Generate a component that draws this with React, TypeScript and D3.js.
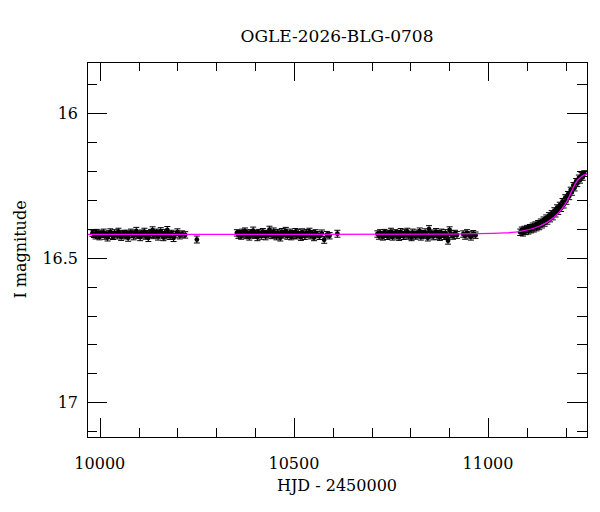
import * as d3 from "d3";
import { useEffect, useRef } from "react";

// photometry: [HJD - 2450000, I mag, error]
const season1: [number, number, number][] = [
  [9981, 16.415, 0.011], [9985, 16.418, 0.012], [9989, 16.424, 0.011], [9992, 16.412, 0.01],
  [9996, 16.421, 0.012], [9999, 16.427, 0.011], [10003, 16.416, 0.011], [10006, 16.42, 0.01],
  [10010, 16.413, 0.012], [10013, 16.425, 0.011], [10017, 16.419, 0.011], [10020, 16.43, 0.012],
  [10024, 16.417, 0.01], [10027, 16.411, 0.011], [10031, 16.422, 0.012], [10034, 16.426, 0.011],
  [10038, 16.414, 0.011], [10041, 16.419, 0.01], [10045, 16.423, 0.012], [10048, 16.409, 0.011],
  [10052, 16.418, 0.011], [10055, 16.428, 0.012], [10059, 16.421, 0.011], [10062, 16.415, 0.01],
  [10066, 16.424, 0.011], [10069, 16.417, 0.012], [10073, 16.431, 0.012], [10076, 16.42, 0.011],
  [10080, 16.412, 0.011], [10083, 16.419, 0.01], [10087, 16.426, 0.012], [10090, 16.416, 0.011],
  [10094, 16.407, 0.012], [10097, 16.422, 0.011], [10101, 16.418, 0.011], [10104, 16.429, 0.012],
  [10108, 16.414, 0.01], [10111, 16.421, 0.011], [10115, 16.41, 0.012], [10118, 16.425, 0.011],
  [10122, 16.417, 0.011], [10125, 16.432, 0.012], [10129, 16.42, 0.01], [10132, 16.413, 0.011],
  [10136, 16.405, 0.012], [10139, 16.423, 0.011], [10143, 16.418, 0.011], [10146, 16.411, 0.01],
  [10150, 16.427, 0.012], [10153, 16.416, 0.011], [10157, 16.408, 0.012], [10160, 16.421, 0.011],
  [10164, 16.43, 0.011], [10167, 16.414, 0.012], [10171, 16.424, 0.011], [10174, 16.404, 0.012],
  [10178, 16.419, 0.011], [10181, 16.426, 0.011], [10185, 16.415, 0.01], [10190, 16.432, 0.012],
  [10195, 16.42, 0.011], [10200, 16.411, 0.011], [10206, 16.423, 0.012], [10212, 16.418, 0.011],
  [10220, 16.421, 0.011], [10250, 16.437, 0.012],
];

const season2: [number, number, number][] = [
  [10353, 16.414, 0.011], [10357, 16.421, 0.012], [10360, 16.417, 0.011], [10364, 16.425, 0.011],
  [10367, 16.411, 0.01], [10371, 16.419, 0.012], [10374, 16.408, 0.011], [10378, 16.423, 0.011],
  [10381, 16.416, 0.012], [10385, 16.428, 0.011], [10388, 16.413, 0.01], [10392, 16.42, 0.011],
  [10395, 16.406, 0.012], [10399, 16.422, 0.011], [10402, 16.417, 0.011], [10406, 16.429, 0.012],
  [10409, 16.412, 0.01], [10413, 16.419, 0.011], [10416, 16.424, 0.012], [10420, 16.41, 0.011],
  [10423, 16.418, 0.011], [10427, 16.426, 0.012], [10430, 16.415, 0.01], [10434, 16.421, 0.011],
  [10437, 16.403, 0.012], [10441, 16.416, 0.011], [10444, 16.423, 0.011], [10448, 16.409, 0.012],
  [10451, 16.42, 0.01], [10455, 16.427, 0.011], [10458, 16.414, 0.012], [10462, 16.418, 0.011],
  [10465, 16.431, 0.011], [10469, 16.411, 0.012], [10472, 16.422, 0.01], [10476, 16.416, 0.011],
  [10479, 16.407, 0.012], [10483, 16.425, 0.011], [10486, 16.419, 0.011], [10490, 16.413, 0.012],
  [10493, 16.428, 0.01], [10497, 16.417, 0.011], [10500, 16.421, 0.012], [10504, 16.41, 0.011],
  [10507, 16.424, 0.011], [10511, 16.415, 0.012], [10514, 16.42, 0.01], [10518, 16.429, 0.011],
  [10521, 16.412, 0.012], [10525, 16.418, 0.011], [10528, 16.426, 0.011], [10532, 16.414, 0.012],
  [10536, 16.421, 0.01], [10540, 16.409, 0.011], [10544, 16.423, 0.012], [10548, 16.417, 0.011],
  [10552, 16.43, 0.011], [10556, 16.415, 0.012], [10561, 16.42, 0.011], [10566, 16.426, 0.011],
  [10572, 16.416, 0.012], [10578, 16.438, 0.012], [10585, 16.42, 0.011], [10592, 16.424, 0.011],
  [10612, 16.417, 0.012],
];

const season3: [number, number, number][] = [
  [10715, 16.418, 0.011], [10719, 16.424, 0.012], [10722, 16.414, 0.011], [10726, 16.421, 0.011],
  [10729, 16.427, 0.012], [10733, 16.412, 0.01], [10736, 16.419, 0.011], [10740, 16.425, 0.012],
  [10743, 16.416, 0.011], [10747, 16.422, 0.011], [10750, 16.41, 0.012], [10754, 16.428, 0.011],
  [10757, 16.418, 0.01], [10761, 16.414, 0.011], [10764, 16.423, 0.012], [10768, 16.417, 0.011],
  [10771, 16.429, 0.011], [10775, 16.411, 0.012], [10778, 16.42, 0.01], [10782, 16.426, 0.011],
  [10785, 16.415, 0.012], [10789, 16.421, 0.011], [10792, 16.409, 0.011], [10796, 16.424, 0.012],
  [10799, 16.418, 0.01], [10803, 16.43, 0.011], [10806, 16.413, 0.012], [10810, 16.42, 0.011],
  [10813, 16.425, 0.011], [10817, 16.416, 0.012], [10820, 16.422, 0.01], [10824, 16.408, 0.011],
  [10827, 16.427, 0.012], [10831, 16.417, 0.011], [10834, 16.423, 0.011], [10838, 16.412, 0.012],
  [10841, 16.419, 0.01], [10845, 16.431, 0.011], [10848, 16.401, 0.012], [10852, 16.421, 0.011],
  [10855, 16.415, 0.011], [10859, 16.426, 0.012], [10862, 16.418, 0.01], [10866, 16.41, 0.011],
  [10869, 16.424, 0.012], [10873, 16.417, 0.011], [10876, 16.429, 0.011], [10880, 16.413, 0.012],
  [10883, 16.42, 0.01], [10887, 16.426, 0.011], [10890, 16.415, 0.012], [10894, 16.422, 0.011],
  [10897, 16.441, 0.012], [10901, 16.404, 0.011], [10905, 16.419, 0.012], [10910, 16.425, 0.011],
  [10915, 16.416, 0.011], [10920, 16.421, 0.012], [10936, 16.418, 0.011], [10941, 16.424, 0.012],
  [10946, 16.414, 0.011], [10951, 16.421, 0.011], [10956, 16.427, 0.012], [10962, 16.417, 0.011],
  [10968, 16.422, 0.011],
];

const season4: [number, number, number][] = [
  [11083, 16.412, 0.011], [11087, 16.404, 0.01], [11090, 16.414, 0.011], [11094, 16.401, 0.01],
  [11097, 16.409, 0.011], [11101, 16.398, 0.01], [11104, 16.407, 0.011], [11108, 16.395, 0.01],
  [11111, 16.403, 0.011], [11115, 16.39, 0.01], [11118, 16.4, 0.011], [11122, 16.386, 0.01],
  [11125, 16.396, 0.011], [11129, 16.381, 0.01], [11132, 16.392, 0.011], [11136, 16.376, 0.01],
  [11139, 16.386, 0.011], [11143, 16.369, 0.01], [11146, 16.38, 0.011], [11150, 16.362, 0.01],
  [11153, 16.373, 0.011], [11157, 16.354, 0.01], [11160, 16.365, 0.011], [11164, 16.347, 0.01],
  [11167, 16.358, 0.011], [11171, 16.337, 0.01], [11174, 16.348, 0.011], [11178, 16.327, 0.01],
  [11181, 16.339, 0.011], [11185, 16.318, 0.01], [11188, 16.329, 0.011], [11192, 16.305, 0.01],
  [11195, 16.317, 0.011], [11199, 16.292, 0.01], [11202, 16.304, 0.011], [11206, 16.281, 0.01],
  [11209, 16.288, 0.011], [11213, 16.266, 0.01], [11216, 16.273, 0.011], [11220, 16.25, 0.01],
  [11223, 16.258, 0.011], [11227, 16.236, 0.01], [11230, 16.243, 0.011], [11234, 16.224, 0.01],
  [11237, 16.231, 0.011], [11241, 16.215, 0.01], [11244, 16.221, 0.011], [11248, 16.209, 0.01],
];

// model light curve
const modelHjd = [9967, 10500, 10900, 11044, 11087, 11130, 11155, 11181, 11203, 11215, 11228, 11241, 11255];
const modelMag = [16.419, 16.419, 16.418, 16.414, 16.408, 16.392, 16.375, 16.346, 16.306, 16.271, 16.237, 16.219, 16.211];

const xTicks = [10000, 10500, 11000];
const yTicks = [16, 16.5, 17];

const W = 600;
const H = 512;
const M = { left: 87, right: 587, top: 62, bottom: 437 };

export default function App() {
  const ref = useRef<SVGSVGElement>(null);

  useEffect(() => {
    const svg = d3.select(ref.current);
    svg.selectAll("*").remove();

    const x = d3.scaleLinear().domain([9967, 11255]).range([M.left, M.right]);
    const y = d3.scaleLinear().domain([15.823, 17.12]).range([M.top, M.bottom]);

    const font = "'DejaVu Serif', serif";

    svg.append("clipPath").attr("id", "plotclip")
      .append("rect")
      .attr("x", M.left).attr("y", M.top)
      .attr("width", M.right - M.left).attr("height", M.bottom - M.top);

    const plot = svg.append("g").attr("clip-path", "url(#plotclip)");

    const data = [...season1, ...season2, ...season3, ...season4];

    // error bars
    const eb = plot.append("g").attr("stroke", "#000").attr("stroke-width", 1);
    data.forEach(([t, m, e]) => {
      const cx = x(t);
      eb.append("line").attr("x1", cx).attr("x2", cx).attr("y1", y(m - e)).attr("y2", y(m + e));
      eb.append("line").attr("x1", cx - 3).attr("x2", cx + 3).attr("y1", y(m - e)).attr("y2", y(m - e));
      eb.append("line").attr("x1", cx - 3).attr("x2", cx + 3).attr("y1", y(m + e)).attr("y2", y(m + e));
    });

    plot.append("g")
      .selectAll("circle")
      .data(data)
      .join("circle")
      .attr("cx", (d) => x(d[0]))
      .attr("cy", (d) => y(d[1]))
      .attr("r", 2.4)
      .attr("fill", "#000");

    const model = modelHjd.map((t, i) => [t, modelMag[i]] as [number, number]);
    const line = d3.line<[number, number]>()
      .x((d) => x(d[0]))
      .y((d) => y(d[1]))
      .curve(d3.curveMonotoneX);
    plot.append("path")
      .attr("d", line(model))
      .attr("fill", "none")
      .attr("stroke", "#ff00ff")
      .attr("stroke-width", 1.3);

    // ticks on all four sides, pointing inward
    const tk = svg.append("g").attr("stroke", "#000").attr("stroke-width", 1);
    const xMinor = d3.range(10000, 11256, 100);
    xMinor.forEach((t) => {
      const len = t % 500 === 0 ? 19 : 9;
      const px = Math.round(x(t)) + 0.5;
      tk.append("line").attr("x1", px).attr("x2", px).attr("y1", M.bottom).attr("y2", M.bottom - len);
      tk.append("line").attr("x1", px).attr("x2", px).attr("y1", M.top).attr("y2", M.top + len);
    });
    const yMinor = d3.range(15.9, 17.11, 0.1).map((v) => Math.round(v * 10) / 10);
    yMinor.forEach((v) => {
      const len = Math.abs(v * 2 - Math.round(v * 2)) < 1e-6 ? 20 : 10;
      const py = Math.round(y(v)) + 0.5;
      tk.append("line").attr("x1", M.left).attr("x2", M.left + len).attr("y1", py).attr("y2", py);
      tk.append("line").attr("x1", M.right).attr("x2", M.right - len).attr("y1", py).attr("y2", py);
    });

    svg.append("rect")
      .attr("x", M.left + 0.5).attr("y", M.top + 0.5)
      .attr("width", M.right - M.left).attr("height", M.bottom - M.top)
      .attr("fill", "none").attr("stroke", "#000").attr("stroke-width", 1);

    // tick labels
    svg.append("g").selectAll("text").data(xTicks).join("text")
      .attr("x", (d) => x(d)).attr("y", 469)
      .attr("text-anchor", "middle")
      .attr("font-family", font).attr("font-size", 16)
      .text((d) => d);
    svg.append("g").selectAll("text").data(yTicks).join("text")
      .attr("x", 78).attr("y", (d) => y(d) + 6)
      .attr("text-anchor", "end")
      .attr("font-family", font).attr("font-size", 16)
      .text((d) => d);

    svg.append("text")
      .attr("x", (M.left + M.right) / 2).attr("y", 42)
      .attr("text-anchor", "middle")
      .attr("font-family", font).attr("font-size", 17)
      .text("OGLE-2026-BLG-0708");

    svg.append("text")
      .attr("x", (M.left + M.right) / 2).attr("y", 491)
      .attr("text-anchor", "middle")
      .attr("font-family", font).attr("font-size", 16)
      .text("HJD - 2450000");

    svg.append("text")
      .attr("transform", `translate(26,${(M.top + M.bottom) / 2}) rotate(-90)`)
      .attr("text-anchor", "middle")
      .attr("font-family", font).attr("font-size", 16)
      .text("I magnitude");
  }, []);

  return (
    <svg
      ref={ref}
      width={W}
      height={H}
      style={{ position: "absolute", left: 0, top: 0, background: "#fff" }}
    />
  );
}
